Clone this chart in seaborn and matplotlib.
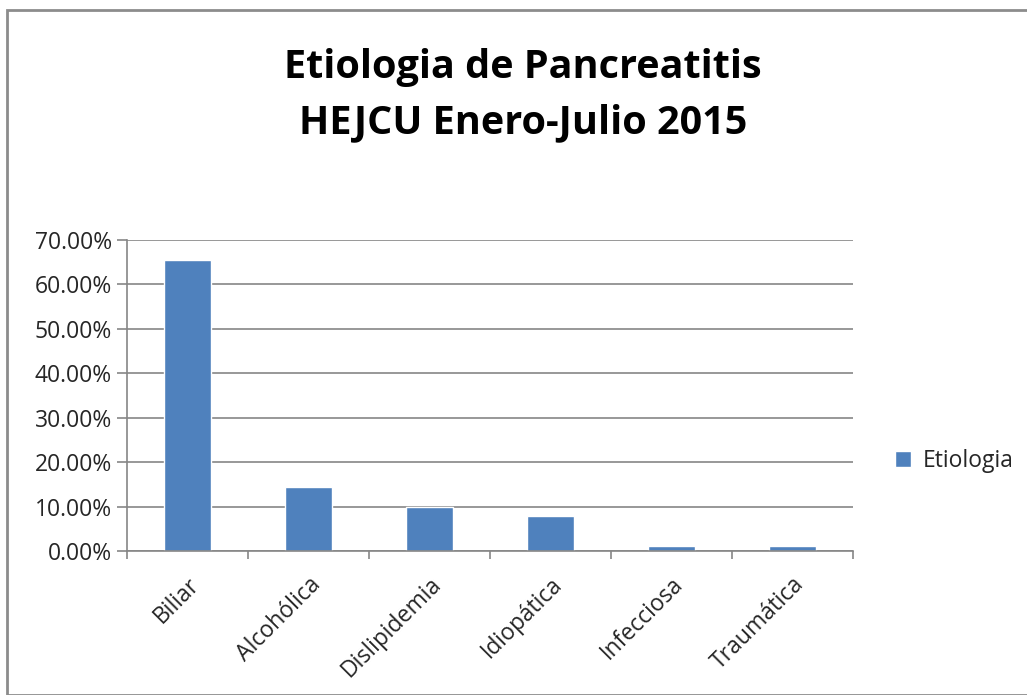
import matplotlib
matplotlib.use('Agg')
import matplotlib.pyplot as plt
import seaborn as sns
import pandas as pd
from matplotlib.patches import Rectangle
from matplotlib.ticker import PercentFormatter, FixedLocator

# Datos - porcentaje por etiologia (n=90)
categorias = ['Biliar', 'Alcohólica', 'Dislipidemia', 'Idiopática', 'Infecciosa', 'Traumática']
porcentajes = [65.56, 14.44, 10.00, 7.78, 1.11, 1.11]
serie = 'Etiologia'
titulo = 'Etiologia de Pancreatitis\nHEJCU Enero-Julio 2015'

df = pd.DataFrame({'Etiologia': categorias, 'Porcentaje': porcentajes})

sns.set_style('white')
plt.rcParams['font.family'] = ['Open Sans', 'DejaVu Sans']

fig = plt.figure(figsize=(10.27, 6.95), dpi=100)
ax = fig.add_axes([127/1027, 1-551/695, (853-127)/1027, (551-240)/695])

sns.barplot(data=df, x='Etiologia', y='Porcentaje', color='#4F81BD', width=0.39,
            saturation=1, ax=ax, label=serie)

gris = '#868686'
fs = 16.5
ax.set_ylim(0, 70)
ax.set_xlim(-0.5, len(categorias)-0.5)
ax.set_yticks(range(0, 71, 10))
ax.yaxis.set_major_formatter(PercentFormatter(decimals=2))
ax.grid(axis='y', color=gris, linewidth=1.2)
ax.set_axisbelow(True)
for s in ['top', 'right']:
    ax.spines[s].set_visible(False)
for s in ['left', 'bottom']:
    ax.spines[s].set_color(gris)
    ax.spines[s].set_linewidth(1.2)

ax.set_xlabel('')
ax.set_ylabel('')
ax.tick_params(axis='y', left=True, length=7, color=gris, width=1.2, labelsize=fs, pad=4)
ax.set_xticks(range(len(categorias)))
ax.set_xticklabels(categorias, rotation=45, ha='right', rotation_mode='anchor', fontsize=fs)
ax.tick_params(axis='x', bottom=False, pad=12)
ax.xaxis.set_minor_locator(FixedLocator([i - 0.5 for i in range(len(categorias)+1)]))
ax.tick_params(axis='x', which='minor', bottom=True, length=6, color=gris, width=1.2)

fig.text(523/1027, 1-95/695, titulo, ha='center', va='center', fontsize=28.5,
         fontweight='bold', linespacing=1.55, color='black')

leg = ax.legend(loc='center left', bbox_to_anchor=(1.03, 0.29), frameon=False,
                fontsize=fs, handlelength=0.7, handleheight=0.7, handletextpad=0.5)

fig.patches.append(Rectangle((7/1027, 0), 1, 1-10/695, transform=fig.transFigure,
                             fill=False, edgecolor='#8c8c8c', linewidth=2))

fig.savefig('out.png', dpi=100)
